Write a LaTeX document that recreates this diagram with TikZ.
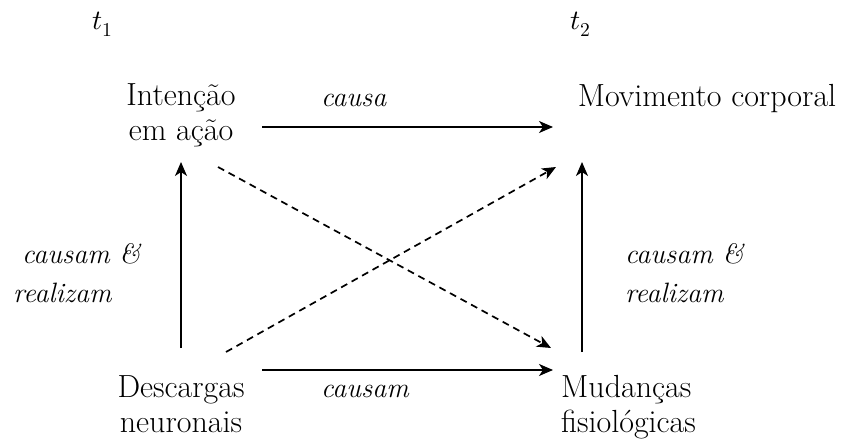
\documentclass[tikz,border=0pt]{standalone}
\usepackage{fontspec}
\usepackage{unicode-math}
\usetikzlibrary{arrows.meta}
\begin{document}
\begin{tikzpicture}[x=1pt,y=1pt,
  txt/.style={inner sep=0pt,font=\fontsize{32}{35.5}\selectfont,align=center},
  lbl/.style={inner sep=0pt,font=\fontsize{28}{39}\selectfont\itshape},
  tlab/.style={inner sep=0pt,font=\fontsize{28}{30}\selectfont},
  arr/.style={line width=1.7pt,-{Stealth[length=14pt,width=12pt,inset=4pt]}},
  darr/.style={arr,dash pattern=on 7pt off 5pt}]
\useasboundingbox (0,0) rectangle (841,440);
\node[tlab,anchor=base] (t1) at (103,410) {$t_1$};
\node[tlab,anchor=base] (t2) at (581,410) {$t_2$};
\node[txt] (intent) at (181,324.5) {Intenção\\em ação};
\node[txt] (mov) at (707,341) {Movimento corporal};
\node[txt] (desc) at (181,36) {Descargas\\neuronais};
\node[txt,align=left,anchor=west] (mud) at (561,33) {Mudanças\\fisiológicas};
% endpoints
\coordinate (a1s) at (262,313);
\coordinate (a1e) at (553,313);
\coordinate (a2s) at (262,70);
\coordinate (a2e) at (553,70);
\coordinate (v1s) at (181,92);
\coordinate (v1e) at (181,278);
\coordinate (v2s) at (582,88);
\coordinate (v2e) at (582,278);
\coordinate (d1s) at (218,273);
\coordinate (d1e) at (551,92);
\coordinate (d2s) at (226,88);
\coordinate (d2e) at (556,273);
\draw[arr] (a1s) -- (a1e);
\draw[arr] (a2s) -- (a2e);
\draw[arr] (v1s) -- (v1e);
\draw[arr] (v2s) -- (v2e);
\draw[darr] (d1s) -- (d1e);
\draw[darr] (d2s) -- (d2e);
\node[lbl,anchor=base west] (l1) at (321,333) {causa};
\node[lbl,anchor=base west] (l2) at (321,43) {causam};
\node[lbl,align=left,anchor=west] (l3) at (13,167.3) {\hspace{9pt}causam \&\\realizam};
\node[lbl,align=left,anchor=west] (l4) at (625,167.3) {causam \&\\realizam};
\end{tikzpicture}
\end{document}
